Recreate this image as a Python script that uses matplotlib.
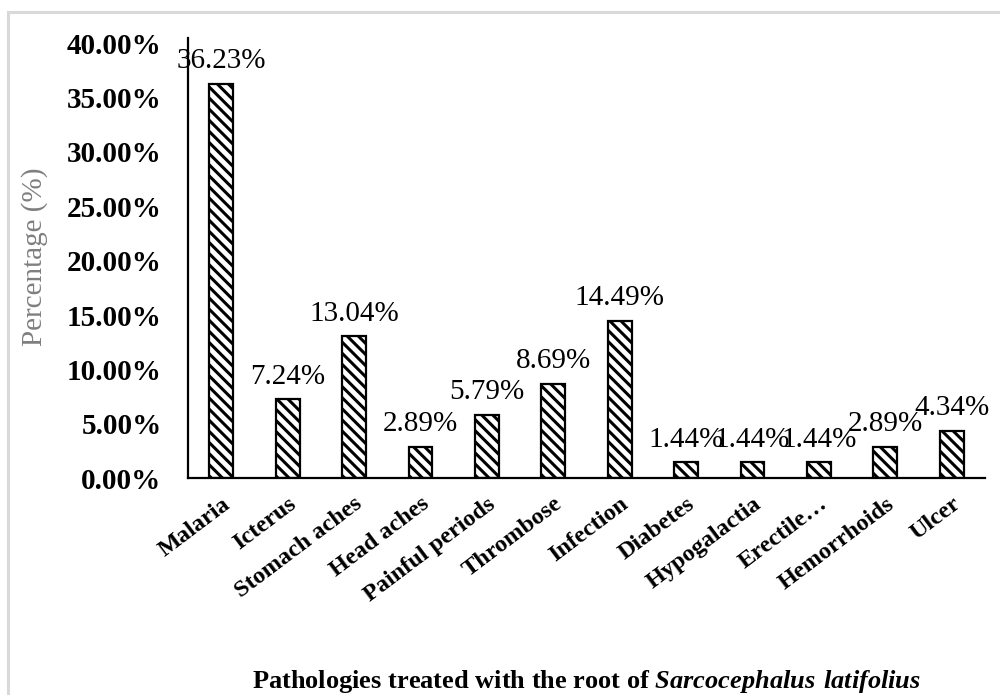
import numpy as np
import matplotlib
matplotlib.use("Agg")
import matplotlib.pyplot as plt
from matplotlib.patches import Rectangle

plt.rcParams['font.family'] = ['Liberation Serif', 'DejaVu Serif']
plt.rcParams['mathtext.fontset'] = 'custom'
plt.rcParams['mathtext.rm'] = 'Liberation Serif:bold'
plt.rcParams['mathtext.bfit'] = 'Liberation Serif:italic:bold'
plt.rcParams['hatch.linewidth'] = 2.2
plt.rcParams['hatch.color'] = 'black'

pathologies = ["Malaria", "Icterus", "Stomach aches", "Head aches", "Painful periods",
               "Thrombose", "Infection", "Diabetes", "Hypogalactia", "Erectile…",
               "Hemorrhoids", "Ulcer"]
percent = [36.23, 7.24, 13.04, 2.89, 5.79, 8.69, 14.49, 1.44, 1.44, 1.44, 2.89, 4.34]
yticks = [0, 5, 10, 15, 20, 25, 30, 35, 40]

fig = plt.figure(figsize=(10, 6.95), dpi=100)
# thin grey frame around the chart area
fig.patches.append(Rectangle((0.008, -0.1), 1.2, 1.1 - 0.0173, transform=fig.transFigure,
                             fill=False, edgecolor='#d9d9d9', linewidth=2.2))

ax = fig.add_axes([0.188, 0.312, 0.797, 0.633])
x = np.arange(len(pathologies))
bars = ax.bar(x, percent, width=0.36, color='white', edgecolor='black',
              linewidth=1.6, hatch='\\\\\\')

for xi, v in zip(x, percent):
    ax.annotate(f"{v:.2f}%", (xi, v), xytext=(0, 7), textcoords='offset points',
                ha='center', va='bottom', fontsize=21)

ax.set_xlim(-0.5, len(pathologies) - 0.5)
ax.set_ylim(0, 40.45)
ax.set_yticks(yticks)
ax.set_yticklabels([f"{t:.2f}%" for t in yticks], fontsize=21, fontweight='bold')
ax.set_xticks(x)
ax.set_xticklabels(pathologies, rotation=37, ha='right', rotation_mode='anchor',
                   fontsize=17.5, fontweight='bold')
ax.tick_params(axis='y', length=0, pad=19)
ax.tick_params(axis='x', length=0, pad=11)

for s in ['top', 'right']:
    ax.spines[s].set_visible(False)
ax.spines['left'].set_linewidth(1.6)
ax.spines['bottom'].set_linewidth(1.6)

fig.text(0.035, 0.63, "Percentage (%)", rotation=90, ha='center', va='center',
         fontsize=21, color='#7f7f7f')
fig.text(0.5865, 0.01,
         r"Pathologies treated with the root of $\mathbfit{Sarcocephalus\ latifolius}$",
         ha='center', va='baseline', fontsize=19, fontweight='bold')

fig.savefig("out.png", dpi=100)
